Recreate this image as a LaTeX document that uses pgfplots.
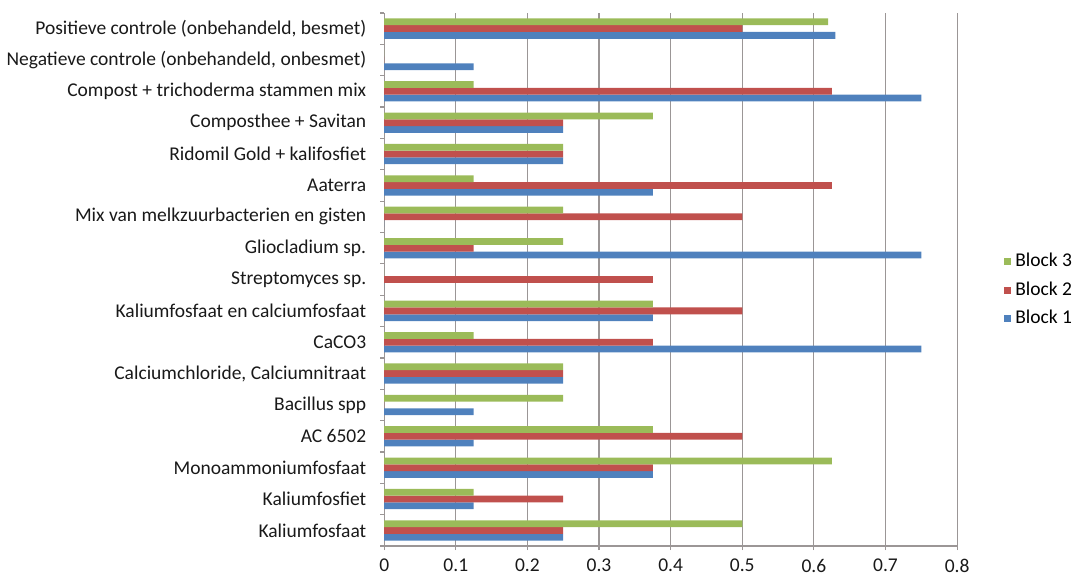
\documentclass[border=0pt]{standalone}
\usepackage{pgfplots}
\pgfplotsset{compat=1.18}
\usepackage{fontspec}
\setmainfont{Carlito}
\definecolor{bone}{RGB}{79,129,189}
\definecolor{btwo}{RGB}{192,80,77}
\definecolor{bthree}{RGB}{155,187,89}
\definecolor{gridc}{RGB}{155,150,150}
\begin{document}
\begin{tikzpicture}
\begin{axis}[
  scale only axis,
  width=288pt, height=268pt,
  xbar, bar width=3.4pt,
  xmin=0, xmax=0.8,
  ymin=-0.5, ymax=16.5,
  xtick={0,0.1,...,0.8},
  xticklabels={0,0.1,0.2,0.3,0.4,0.5,0.6,0.7,0.8},
  ytick={0,...,16},
  yticklabels={Kaliumfosfaat,Kaliumfosfiet,Monoammoniumfosfaat,AC 6502,Bacillus spp,
    {Calciumchloride, Calciumnitraat},CaCO3,Kaliumfosfaat en calciumfosfaat,
    Streptomyces sp.,Gliocladium sp.,Mix van melkzuurbacterien en gisten,Aaterra,
    Ridomil Gold + kalifosfiet,Composthee + Savitan,Compost + trichoderma stammen mix,
    {Negatieve controle (onbehandeld, onbesmet)},{Positieve controle (onbehandeld, besmet)}},
  minor ytick={-0.5,0.5,...,16.5},
  major tick length=0pt,
  minor tick length=2pt,
  tick align=outside,
  xtick pos=bottom, ytick pos=left,
  xmajorgrids, grid style={gridc, line width=0.6pt},
  axis x line*=bottom, axis y line*=left,
  axis line style={gridc, line width=0.6pt},
  every tick/.style={gridc, line width=0.6pt},
  extra x ticks={0,0.1,...,0.8}, extra x tick labels={},
  extra x tick style={major tick length=2pt, grid=none},
  tick label style={font=\fontsize{9.8}{11}\selectfont, text=black!90},
  /pgf/number format/assume math mode=true,
  yticklabel style={xshift=-5.5pt},
  xticklabel style={yshift=-3pt},
  legend style={at={(1.071,0.48)}, anchor=west, draw=none, fill=none,
    font=\fontsize{9.8}{11}\selectfont, row sep=2pt, legend cell align=left,
    /tikz/every even column/.append style={column sep=1pt}},
  reverse legend,
  legend image code/.code={\fill[#1] (0pt,-1.8pt) rectangle (3.6pt,1.8pt);},
]
\addplot[fill=bone, draw=none, bar shift=-3.4pt] coordinates {
  (0.25,0)(0.125,1)(0.375,2)(0.125,3)(0.125,4)(0.25,5)(0.75,6)(0.375,7)
  (0,8)(0.75,9)(0,10)(0.375,11)(0.25,12)(0.25,13)(0.75,14)(0.125,15)(0.63,16)};
\addplot[fill=btwo, draw=none, bar shift=0pt] coordinates {
  (0.25,0)(0.25,1)(0.375,2)(0.5,3)(0,4)(0.25,5)(0.375,6)(0.5,7)
  (0.375,8)(0.125,9)(0.5,10)(0.625,11)(0.25,12)(0.25,13)(0.625,14)(0,15)(0.5,16)};
\addplot[fill=bthree, draw=none, bar shift=3.4pt] coordinates {
  (0.5,0)(0.125,1)(0.625,2)(0.375,3)(0.25,4)(0.25,5)(0.125,6)(0.375,7)
  (0,8)(0.25,9)(0.25,10)(0.125,11)(0.25,12)(0.375,13)(0.125,14)(0,15)(0.62,16)};
\legend{Block 1,Block 2,Block 3}
\end{axis}
\path ([yshift=6.5pt]current axis.north);
\end{tikzpicture}
\end{document}
